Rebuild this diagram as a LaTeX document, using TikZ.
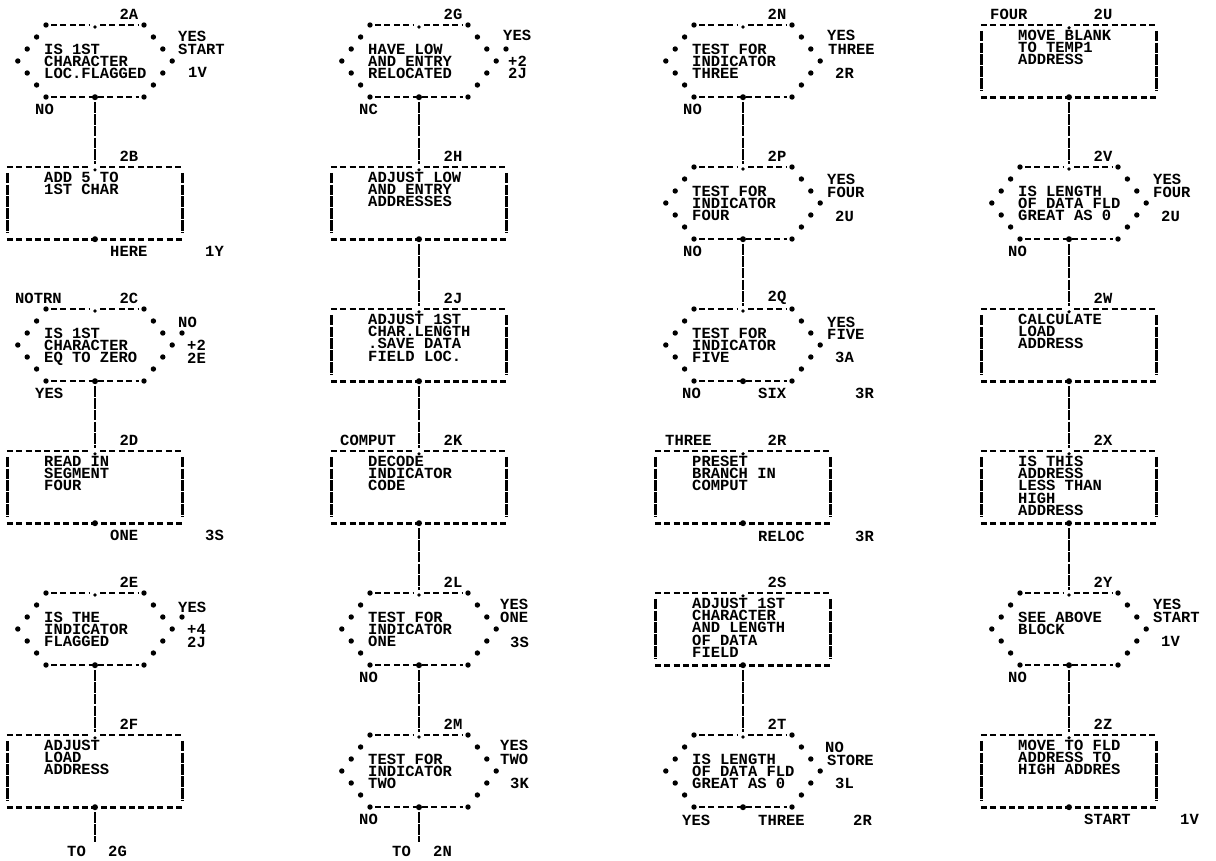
\documentclass[tikz,border=0pt]{standalone}
\usepackage{fontspec}
\newfontfamily\prt{Liberation Mono}
\tikzset{
  txt/.style={font=\prt\bfseries\fontsize{15.5}{12.2}\selectfont, inner sep=0pt, align=left},
  lbl/.style={font=\prt\bfseries\fontsize{15.5}{12.2}\selectfont, inner sep=0pt},
  hexnode/.style={minimum width=98pt, minimum height=72pt, inner sep=0pt, draw=none},
  boxnode/.style={minimum width=176pt, minimum height=72pt, inner sep=0pt, draw=none},
  edgeline/.style={line width=2.6pt, dash pattern=on 6pt off 3.4pt},
  sideline/.style={line width=2.8pt, dash pattern=on 10.5pt off 1.3pt},
  conn/.style={line width=2.8pt, dash pattern=on 10.5pt off 1.3pt, shorten <=5pt, shorten >=3pt},
}
\newcommand{\hexa}[4]{%
  \node[hexnode] (#1) at (#2,#3) {};
  \foreach \dx/\dy in {49/-36,58.4/-24,67.8/-12,77.2/0,67.8/12,58.4/24,49/36}{
    \fill ([shift={(\dx,\dy)}]#1.center) circle (2.7pt);
    \fill ([shift={(-\dx,\dy)}]#1.center) circle (2.7pt);
  }
  \draw[edgeline] ([shift={(-44,-36)}]#1.center) -- ([shift={(-5,-36)}]#1.center);
  \draw[edgeline] ([shift={(5,-36)}]#1.center) -- ([shift={(44,-36)}]#1.center);
  \fill ([shift={(0,-34)}]#1.center) circle (1.8pt);
  \draw[edgeline] ([shift={(-44,36)}]#1.center) -- ([shift={(44,36)}]#1.center);
  \fill (#1.south) circle (3pt);
  \node[txt, anchor=north west] (#1t) at ([shift={(-51,-17.2)}]#1.center) {#4};
}
\newcommand{\boxa}[4]{%
  \node[boxnode] (#1) at (#2,#3) {};
  \draw[edgeline] (#1.north west) -- ([shift={(-5,0)}]#1.north);
  \draw[edgeline] ([shift={(5,0)}]#1.north) -- (#1.north east);
  \fill ([shift={(0,3)}]#1.north) circle (1.8pt);
  \draw[edgeline] (#1.south west) -- (#1.south east);
  \fill (#1.south) circle (3pt);
  \draw[sideline] ([shift={(1,6)}]#1.north west) -- ([shift={(1,-6)}]#1.south west);
  \draw[sideline] ([shift={(-1,6)}]#1.north east) -- ([shift={(-1,-6)}]#1.south east);
  \node[txt, anchor=north west] (#1t) at ([shift={(-51,-31)}]#1.center) {#4};
}
\newcommand{\lab}[5]{\node[lbl, anchor=west] (#1) at ([shift={(#3,#4)}]#2.center) {#5};}
\newcommand{\toplab}[3]{\node[lbl] (#1) at ([shift={(34,-47)}]#2.center) {#3};}
\newcommand{\xdot}[1]{\fill ([shift={(87,-12)}]#1.center) circle (2.7pt);}
\begin{document}
\begin{tikzpicture}[x=1pt,y=-1pt]
\useasboundingbox (0,0) rectangle (1216,860);
\fill[white] (0,0) rectangle (1216,860);

% ---------------- column 1
\hexa{nA}{95}{61}{IS 1ST\\CHARACTER\\LOC.FLAGGED}
\toplab{tA}{nA}{2A}
\lab{A1}{nA}{83}{-25}{YES}
\lab{A2}{nA}{83}{-12}{START}
\lab{A3}{nA}{93}{11}{1V}
\lab{A4}{nA}{-60}{48}{NO}

\boxa{nB}{95}{203}{ADD 5 TO\\1ST CHAR}
\toplab{tB}{nB}{2B}
\lab{B1}{nB}{15}{48}{HERE}
\lab{B2}{nB}{110}{48}{1Y}

\hexa{nC}{95}{345}{IS 1ST\\CHARACTER\\EQ TO ZERO}
\xdot{nC}
\toplab{tC}{nC}{2C}
\lab{C0}{nC}{-80}{-47}{NOTRN}
\lab{C1}{nC}{83}{-23}{NO}
\lab{C2}{nC}{92}{0}{+2}
\lab{C3}{nC}{92}{13}{2E}
\lab{C4}{nC}{-60}{48}{YES}

\boxa{nD}{95}{487}{READ IN\\SEGMENT\\FOUR}
\toplab{tD}{nD}{2D}
\lab{D1}{nD}{15}{48}{ONE}
\lab{D2}{nD}{110}{48}{3S}

\hexa{nE}{95}{629}{IS THE\\INDICATOR\\FLAGGED}
\xdot{nE}
\toplab{tE}{nE}{2E}
\lab{E1}{nE}{83}{-22}{YES}
\lab{E2}{nE}{92}{0}{+4}
\lab{E3}{nE}{92}{13}{2J}

\boxa{nF}{95}{771}{ADJUST\\LOAD\\ADDRESS}
\toplab{tF}{nF}{2F}
\coordinate (endF) at (95,845);
\lab{F1}{endF}{-28}{6}{TO}
\lab{F2}{endF}{13}{6}{2G}

% ---------------- column 2
\hexa{nG}{419}{61}{HAVE LOW\\AND ENTRY\\RELOCATED}
\xdot{nG}
\toplab{tG}{nG}{2G}
\lab{G1}{nG}{84}{-26}{YES}
\lab{G2}{nG}{89}{0}{+2}
\lab{G3}{nG}{89}{12.5}{2J}
\lab{G4}{nG}{-60}{48}{NC}

\boxa{nH}{419}{203}{ADJUST LOW\\AND ENTRY\\ADDRESSES}
\toplab{tH}{nH}{2H}

\boxa{nJ}{419}{345}{ADJUST 1ST\\CHAR.LENGTH\\.SAVE DATA\\FIELD LOC.}
\toplab{tJ}{nJ}{2J}

\boxa{nK}{419}{487}{DECODE\\INDICATOR\\CODE}
\toplab{tK}{nK}{2K}
\lab{K0}{nK}{-79}{-47}{COMPUT}

\hexa{nL}{419}{629}{TEST FOR\\INDICATOR\\ONE}
\toplab{tL}{nL}{2L}
\lab{L1}{nL}{81}{-25}{YES}
\lab{L2}{nL}{81}{-12}{ONE}
\lab{L3}{nL}{91}{13}{3S}
\lab{L4}{nL}{-60}{48}{NO}

\hexa{nM}{419}{771}{TEST FOR\\INDICATOR\\TWO}
\toplab{tM}{nM}{2M}
\lab{M1}{nM}{81}{-26}{YES}
\lab{M2}{nM}{81}{-12}{TWO}
\lab{M3}{nM}{91}{12}{3K}
\lab{M4}{nM}{-60}{48}{NO}
\coordinate (endM) at (419,845);
\lab{M5}{endM}{-27}{6}{TO}
\lab{M6}{endM}{14}{6}{2N}

% ---------------- column 3
\hexa{nN}{743}{61}{TEST FOR\\INDICATOR\\THREE}
\toplab{tN}{nN}{2N}
\lab{N1}{nN}{84}{-26}{YES}
\lab{N2}{nN}{85}{-12}{THREE}
\lab{N3}{nN}{92}{12}{2R}
\lab{N4}{nN}{-60}{48}{NO}

\hexa{nP}{743}{203}{TEST FOR\\INDICATOR\\FOUR}
\toplab{tP}{nP}{2P}
\lab{P1}{nP}{84}{-24}{YES}
\lab{P2}{nP}{84}{-11}{FOUR}
\lab{P3}{nP}{92}{13}{2U}
\lab{P4}{nP}{-60}{48}{NO}

\hexa{nQ}{743}{345}{TEST FOR\\INDICATOR\\FIVE}
\toplab{tQ}{nQ}{2Q}
\lab{Q1}{nQ}{84}{-23}{YES}
\lab{Q2}{nQ}{84}{-11}{FIVE}
\lab{Q3}{nQ}{92}{12}{3A}
\lab{Q4}{nQ}{-61}{48}{NO}
\lab{Q5}{nQ}{15}{48}{SIX}
\lab{Q6}{nQ}{112}{48}{3R}

\boxa{nR}{743}{487}{PRESET\\BRANCH IN\\COMPUT}
\toplab{tR}{nR}{2R}
\lab{R0}{nR}{-78}{-47}{THREE}
\lab{R1}{nR}{15}{49}{RELOC}
\lab{R2}{nR}{112}{49}{3R}

\boxa{nS}{743}{629}{ADJUST 1ST\\CHARACTER\\AND LENGTH\\OF DATA\\FIELD}
\toplab{tS}{nS}{2S}

\hexa{nT}{743}{771}{IS LENGTH\\OF DATA FLD\\GREAT AS 0}
\toplab{tT}{nT}{2T}
\lab{T1}{nT}{82}{-24}{NO}
\lab{T2}{nT}{84}{-11}{STORE}
\lab{T3}{nT}{92}{12}{3L}
\lab{T4}{nT}{-61}{49}{YES}
\lab{T5}{nT}{15}{49}{THREE}
\lab{T6}{nT}{110}{49}{2R}

% ---------------- column 4
\boxa{nU}{1069}{61}{MOVE BLANK\\TO TEMP1\\ADDRESS}
\toplab{tU}{nU}{2U}
\lab{U0}{nU}{-79}{-47}{FOUR}

\hexa{nV}{1069}{203}{IS LENGTH\\OF DATA FLD\\GREAT AS 0}
\toplab{tV}{nV}{2V}
\lab{V1}{nV}{84}{-24}{YES}
\lab{V2}{nV}{84}{-11}{FOUR}
\lab{V3}{nV}{92}{13}{2U}
\lab{V4}{nV}{-61}{48}{NO}

\boxa{nW}{1069}{345}{CALCULATE\\LOAD\\ADDRESS}
\toplab{tW}{nW}{2W}

\boxa{nX}{1069}{487}{IS THIS\\ADDRESS\\LESS THAN\\HIGH\\ADDRESS}
\toplab{tX}{nX}{2X}

\hexa{nY}{1069}{629}{SEE ABOVE\\BLOCK}
\toplab{tY}{nY}{2Y}
\lab{Y1}{nY}{84}{-25}{YES}
\lab{Y2}{nY}{84}{-12}{START}
\lab{Y3}{nY}{92}{12}{1V}
\lab{Y4}{nY}{-61}{48}{NO}

\boxa{nZ}{1069}{771}{MOVE TO FLD\\ADDRESS TO\\HIGH ADDRES}
\toplab{tZ}{nZ}{2Z}
\lab{Z1}{nZ}{15}{48}{START}
\lab{Z2}{nZ}{111}{48}{1V}

% ---------------- connectors
\draw[conn] (nA.south) -- (nB.north);
\draw[conn] (nC.south) -- (nD.north);
\draw[conn] (nE.south) -- (nF.north);
\draw[conn] (nF.south) -- (endF);
\draw[conn] (nG.south) -- (nH.north);
\draw[conn] (nH.south) -- (nJ.north);
\draw[conn] (nJ.south) -- (nK.north);
\draw[conn] (nK.south) -- (nL.north);
\draw[conn] (nL.south) -- (nM.north);
\draw[conn] (nM.south) -- (endM);
\draw[conn] (nN.south) -- (nP.north);
\draw[conn] (nP.south) -- (nQ.north);
\draw[conn] (nS.south) -- (nT.north);
\draw[conn] (nU.south) -- (nV.north);
\draw[conn] (nV.south) -- (nW.north);
\draw[conn] (nW.south) -- (nX.north);
\draw[conn] (nX.south) -- (nY.north);
\draw[conn] (nY.south) -- (nZ.north);
\end{tikzpicture}
\end{document}
